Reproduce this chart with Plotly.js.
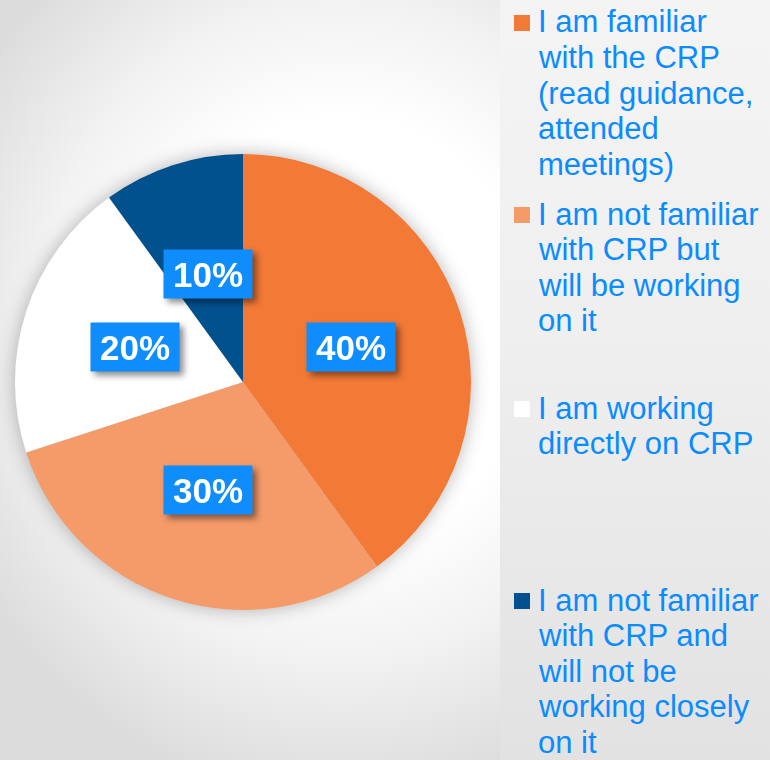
<!DOCTYPE html>
<html>
<head>
<meta charset="utf-8">
<script src="https://cdn.plot.ly/plotly-3.0.1.min.js"></script>
<style>
  html, body { margin: 0; padding: 0; }
  #chart {
    width: 770px; height: 760px;
    background:
      linear-gradient(to bottom, #f4f4f4 0%, #efefef 45%, #e2e2e2 100%) right top / 270px 100% no-repeat,
      radial-gradient(ellipse 430px 470px at 340px 330px, #ffffff 45%, #f2f2f2 70%, #dcdcdc 100%);
  }
  .pielayer { filter: drop-shadow(0 0 9px rgba(0,0,0,0.28)); }
</style>
</head>
<body>
<div id="chart"></div>
<script>
// ---- data ----
const categories = [
  "I am familiar<br>with the CRP<br>(read guidance,<br>attended<br>meetings)",
  "I am not familiar<br>with CRP but<br>will be working<br>on it",
  "I am working<br>directly on CRP",
  "I am not familiar<br>with CRP and<br>will not be<br>working closely<br>on it"
];
const values = [40, 30, 20, 10];
const percentLabels = ["40%", "30%", "20%", "10%"];
const sliceColors = ["#f27936", "#f59b69", "#ffffff", "#02518f"];

// ---- layout constants ----
const W = 770, H = 760;
const pieLeft = 15, pieTop = 154, pieSize = 456;
const cx = pieLeft + pieSize / 2, cy = pieTop + pieSize / 2, R = pieSize / 2;
const legendItemMid = [22, 214, 408, 600];
const legendLineStep = 35.5;
const legendTextX = 536, legendMarkX = 514, legendMarkSize = 16;
const legendColor = "#0a8cff";
const fontFam = "'Liberation Sans', Arial, sans-serif";

const trace = {
  type: "pie",
  labels: categories,
  values: values,
  sort: false,
  direction: "clockwise",
  rotation: 0,
  marker: { colors: sliceColors, line: { width: 0 } },
  textinfo: "none",
  hoverinfo: "label+percent",
  showlegend: false,
  domain: { x: [pieLeft / W, (pieLeft + pieSize) / W], y: [(H - pieTop - pieSize) / H, (H - pieTop) / H] }
};

const annotations = [];
const shapes = [];
const total = values.reduce((a, b) => a + b, 0);
let cum = 0;
values.forEach((v, i) => {
  const mid = (cum + v / 2) / total;
  cum += v;
  const th = 2 * Math.PI * mid;
  const px = cx + 0.5 * R * Math.sin(th);
  const py = cy - 0.5 * R * Math.cos(th);
  annotations.push({
    x: px / W, y: 1 - py / H, xref: "paper", yref: "paper",
    xanchor: "center", yanchor: "middle",
    text: "<b>" + percentLabels[i] + "</b>", showarrow: false,
    font: { family: fontFam, size: 35, color: "#ffffff" },
    bgcolor: "#0f8dfd", width: 84, height: 44, borderpad: 2, align: "center", valign: "middle"
  });
});

categories.forEach((c, i) => {
  const lines = c.split("<br>");
  lines.forEach((ln, j) => {
    annotations.push({
      x: legendTextX / W, y: 1 - (legendItemMid[i] + j * legendLineStep) / H,
      xref: "paper", yref: "paper", xanchor: "left", yanchor: "middle",
      text: ln, showarrow: false, align: "left",
      font: { family: fontFam, size: 31, color: legendColor }
    });
  });
  const my = legendItemMid[i] + 1;
  shapes.push({
    type: "rect", xref: "paper", yref: "paper",
    x0: legendMarkX / W, x1: (legendMarkX + legendMarkSize) / W,
    y0: 1 - (my - legendMarkSize / 2) / H, y1: 1 - (my + legendMarkSize / 2) / H,
    fillcolor: sliceColors[i], line: { width: 0 }
  });
});

const layout = {
  width: W, height: H,
  margin: { l: 0, r: 0, t: 0, b: 0 },
  paper_bgcolor: "rgba(0,0,0,0)",
  plot_bgcolor: "rgba(0,0,0,0)",
  showlegend: false,
  annotations: annotations,
  shapes: shapes
};

Plotly.newPlot("chart", [trace], layout, { displayModeBar: false, staticPlot: true }).then(() => {
  document.querySelectorAll(".infolayer g.annotation").forEach(g => {
    const idx = +g.getAttribute("data-index");
    if (idx < values.length) g.style.filter = "drop-shadow(4px 4px 3px rgba(0,0,0,0.45))";
  });
});
</script>
</body>
</html>
